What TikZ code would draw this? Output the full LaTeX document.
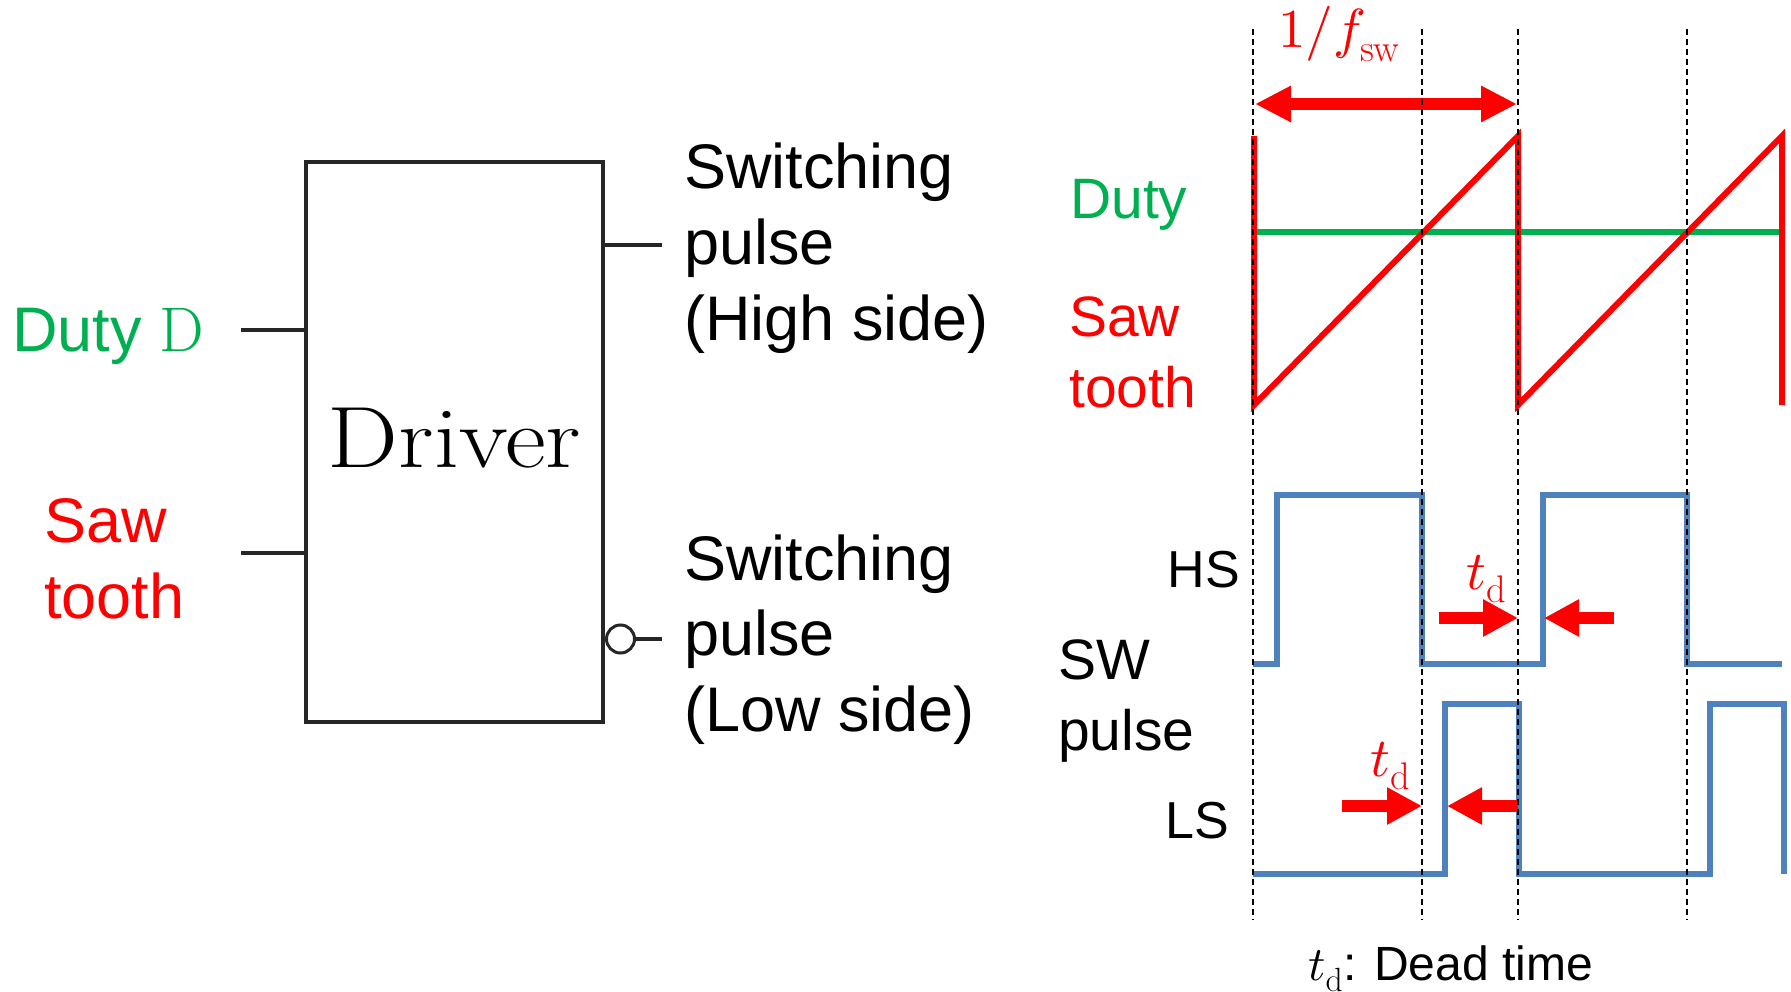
\documentclass[tikz,border=0pt]{standalone}
\usepackage{fontspec}
\usepackage{unicode-math}
\setmathfont{Latin Modern Math}
\setsansfont{Liberation Sans}
\usetikzlibrary{positioning,arrows.meta}
\definecolor{swred}{HTML}{FF0000}
\definecolor{swgreen}{HTML}{00B050}
\definecolor{swblue}{HTML}{4F81BD}

\begin{document}
\begin{tikzpicture}[
  x=1pt, y=-1pt,
  big/.style={font=\sffamily\fontsize{63}{75.5}\selectfont, align=left, inner sep=0pt, anchor=base west},
  mid/.style={font=\sffamily\fontsize{57}{71}\selectfont, align=left, inner sep=0pt, anchor=base west},
  sml/.style={font=\sffamily\fontsize{52}{60}\selectfont, inner sep=0pt},
  mth/.style={font=\fontsize{55}{60}\selectfont, text=swred, inner sep=0pt, anchor=base west},
  wire/.style={line width=4pt, draw=black!85},
  guide/.style={line width=2pt, draw=black, dash pattern=on 6pt off 4pt},
  saw/.style={line width=6pt, draw=swred},
  pulse/.style={line width=5.5pt, draw=swblue},
  block/.style={-{Triangle[length=35pt,width=35pt]}, line width=12pt, draw=swred},
]
\useasboundingbox (0,0) rectangle (1791,992);

% ---- Driver block with its terminals ----
\node[draw=black!85, line width=4pt, minimum width=297pt, minimum height=560pt, inner sep=0pt] (drv) at (454.5,442) {};
\node[font=\fontsize{87}{100}\selectfont, inner sep=0pt, anchor=base] (drvtxt) at (454.5,467) {\scalebox{1.15}[1]{Driver}};
\coordinate (dutyin) at (241,330);
\coordinate (sawin) at (241,553);
\coordinate (hsout) at (662,245);
\coordinate (lsout) at (662,639);
\draw[wire] (dutyin) -- (dutyin -| drv.west);
\draw[wire] (sawin) -- (sawin -| drv.west);
\draw[wire] (hsout -| drv.east) -- (hsout);
\node[circle, draw=black!85, line width=3pt, minimum size=28pt, inner sep=0pt, anchor=west] (bub) at (lsout -| drv.east) {};
\draw[wire] (bub.east) -- (lsout);

% ---- Labels round the block (anchored on the last line) ----
\node[big, text=swgreen] (dutylbl) at (12,352) {Duty {\rmfamily D}};
\node[big, text=swred] (sawlbl) at (44,618) {Saw\\tooth};
\node[big] (hslbl) at (684,340) {Switching\\pulse\\(High side)};
\node[big] (lslbl) at (684,731) {Switching\\pulse\\(Low side)};

% ---- Carrier and duty ----
\node[mth] (period) at (1278,48) {$1/f_{\mathrm{sw}}$};
\draw[{Triangle[length=36pt,width=34pt]}-{Triangle[length=36pt,width=34pt]}, line width=12pt, draw=swred]
     (1255,104) -- (1517,104);
\node[mid, text=swgreen] (dutyr) at (1070,219) {Duty};
\node[mid, text=swred] (sawr) at (1069,407) {Saw\\tooth};
\draw[line width=6pt, draw=swgreen] (1254,232) -- (1780,232);
\draw[saw] (1254,136) -- (1254,405) -- (1518,136) -- (1518,405) -- (1782,136) -- (1782,405);

% ---- Switching pulses ----
\node[sml, anchor=base east] (hs) at (1240,587) {HS};
\node[mid] (sw) at (1058,750) {SW\\pulse};
\node[sml, anchor=base west] (ls) at (1165,838) {LS};
\draw[pulse] (1253,664) -- (1277,664) -- (1277,495) -- (1422,495) -- (1422,664) -- (1543,664)
             -- (1543,495) -- (1687,495) -- (1687,664) -- (1782,664);
\draw[pulse] (1253,874) -- (1445,874) -- (1445,704) -- (1519,704) -- (1519,874) -- (1710,874)
             -- (1710,704) -- (1784,704) -- (1784,874);

% ---- Dead time marks ----
\node[mth] (tdhi) at (1466,589) {$t_{\mathrm{d}}$};
\node[mth] (tdlo) at (1370,776) {$t_{\mathrm{d}}$};
\draw[block] (1439,618) -- (1518,618);
\draw[block] (1614,618) -- (1544,618);
\draw[block] (1342,806) -- (1422,806);
\draw[block] (1518,806) -- (1447,806);
\node[font=\sffamily\fontsize{48}{56}\selectfont, inner sep=0pt, anchor=base west] (tdnote) at (1308,980)
     {$t_{\mathrm{d}}$: Dead time};

% ---- Timing guides ----
\draw[guide] (1253,29) -- (1253,920);
\draw[guide] (1422,29) -- (1422,920);
\draw[guide] (1518,29) -- (1518,920);
\draw[guide] (1687,29) -- (1687,920);
\end{tikzpicture}
\end{document}
